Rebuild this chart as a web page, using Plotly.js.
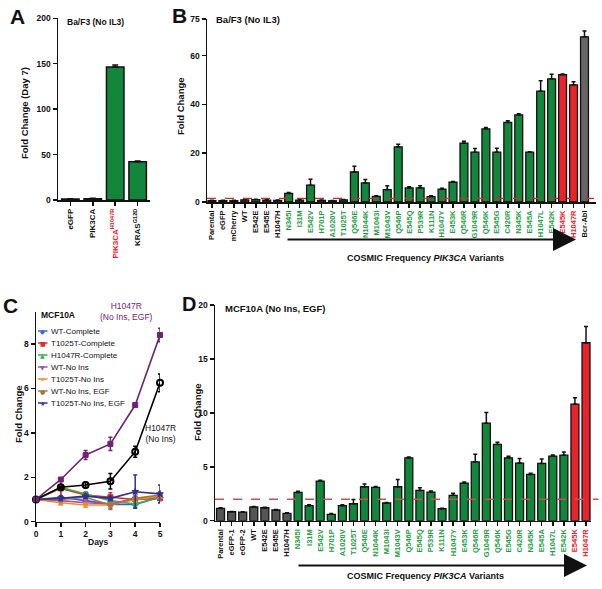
<!DOCTYPE html>
<html><head><meta charset="utf-8">
<script src="https://cdn.plot.ly/plotly-3.0.1.min.js"></script>
<style>html,body{margin:0;padding:0;background:#fff}#chart{width:602px;height:589px}</style>
</head><body><div id="chart"></div>
<script>
// ---------- DATA ----------
const catsA = ['eGFP','PIK3CA','PIK3CA_H1047R','KRAS_G12D'];
const tickA = ['eGFP','PIK3CA','<span style="color:#e8202a">PIK3CA<sup>H1047R</sup></span>','KRAS<sup>G12D</sup>'];
const valsA = [1.0, 1.5, 146.5, 42];
const errA  = [0.3, 0.4, 2.0, 1.0];

const catsB = ['Parental','eGFP','mCherry','WT','E542E','E545E','H1047H',
  'N345I','I31M','E542V','H701P','A1020V','T1025T','Q546E','N1044K','M1043I','M1043V',
  'Q546P','E545Q','P539R','K111N','H1047Y','E453K','Q546R','G1049R','Q546K','E545G',
  'C420R','N345K','E545A','H1047L','E542K','E545K','H1047R','Bcr-Abl'];
const groupB = ['c','c','c','c','c','c','c',
  'v','v','v','v','v','v','v','v','v','v','v','v','v','v','v','v','v','v','v','v','v','v','v','v','v',
  'h','h','p'];
const valsB = [0.6,0.6,0.6,0.9,1.0,0.8,0.7,
  3.5,0.8,6.9,0.7,0.5,0.9,12.3,7.8,2.3,5.1,22.6,5.8,5.8,2.2,5.3,8.1,24.1,20.4,30.0,20.4,32.6,35.7,20.4,45.4,50.5,
  52.2,48.0,67.7];
const errB = [0.1,0.1,0.1,0.1,0.1,0.1,0.1,
  0.4,0.2,2.4,0.1,0.1,0.1,2.4,1.4,0.3,1.6,1.1,0.4,0.9,0.4,0.3,0.3,0.8,1.5,0.5,1.6,0.7,0.5,0.2,4.3,1.9,
  0.3,1.3,2.4];
const thresholdB = 1.5;

const catsD = ['Parental','eGFP-1','eGFP-2','WT','E542E','E545E','H1047H',
  'N345I','I31M','E542V','H701P','A1020V','T1025T','Q546E','N1044K','M1043I','M1043V',
  'Q546P','E545Q','P539R','K111N','H1047Y','E453K','Q546R','G1049R','Q546K','E545G',
  'C420R','N345K','E545A','H1047L','E542K','E545K','H1047R'];
const groupD = ['c','c','c','c','c','c','c',
  'v','v','v','v','v','v','v','v','v','v','v','v','v','v','v','v','v','v','v','v','v','v','v','v','v',
  'h','h'];
const valsD = [1.14,0.83,0.80,1.27,1.20,0.99,0.68,
  2.62,1.39,3.67,0.59,1.39,1.57,3.15,3.09,1.64,3.15,5.83,2.81,2.65,1.11,2.35,3.49,5.46,9.04,7.07,5.83,5.34,4.29,5.31,5.99,6.08,
  10.8,16.5];
const errD = [0.05,0.03,0.03,0.05,0.05,0.05,0.05,
  0.1,0.08,0.08,0.08,0.1,0.4,0.25,0.08,0.05,0.68,0.08,0.25,0.1,0.05,0.2,0.1,0.7,1.0,0.2,0.15,0.43,0.1,0.4,0.1,0.28,
  0.6,1.5];
const thresholdD = 2;

const daysC = [0,1,2,3,4,5];
const namesC = ['WT-Complete','T1025T-Complete','H1047R-Complete','WT-No Ins','T1025T-No Ins','WT-No Ins, EGF','T1025T-No Ins, EGF','H1047R (No Ins, EGF)','H1047R (No Ins)'];
const valsC = [
  [1.0,1.1,0.95,0.78,0.78,1.1],
  [1.0,1.5,1.2,1.1,1.0,1.05],
  [1.0,1.55,1.25,0.95,0.8,1.1],
  [1.0,0.95,0.85,0.8,1.05,1.1],
  [1.0,0.85,0.75,0.75,1.0,1.15],
  [1.0,1.0,1.1,0.75,1.05,1.2],
  [1.0,1.05,1.15,1.05,1.35,1.25],
  [1.0,1.9,3.0,3.5,5.25,8.4],
  [1.0,1.55,1.65,1.82,3.15,6.25]
];
const errC = [
  [0.05,0.3,0.15,0.2,0.15,0.1],
  [0.05,0.35,0.1,0.2,0.15,0.2],
  [0.05,0.1,0.1,0.1,0.1,0.25],
  [0.05,0.1,0.1,0.1,0.1,0.1],
  [0.05,0.1,0.1,0.1,0.1,0.1],
  [0.05,0.1,0.1,0.2,0.1,0.15],
  [0.05,0.1,0.1,0.1,0.75,0.4],
  [0.05,0.08,0.2,0.3,0.08,0.3],
  [0.05,0.05,0.12,0.35,0.25,0.4]
];

// ---------- STYLE ----------
const FONT = 'Liberation Sans, Arial, Helvetica, sans-serif';
const W = 602, H = 589;
const px = v => v / W, py = v => 1 - v / H;
const barColor = {c:'#555555', v:'#12873b', h:'#e8232a', p:'#666666'};
const labColor = {c:'#111111', v:'#1d9e45', h:'#e8202a', p:'#111111'};
const colorsC = ['#3b5fcf','#e8262a','#2db34a','#9b4fc0','#f28c28','#a4763a','#2e3192','#6e2474','#000000'];
const symC = ['diamond','square','triangle-up','triangle-down','x-thin-open','octagon','star','square','circle-open'];
const glyphC = ['◆','■','▲','▼','✕','●','★'];

const tickText = (cats, groups) => cats.map((c,i)=>`<span style="color:${labColor[groups[i]]}">${c}</span>`);

const axBase = {showline:true, linecolor:'#111', linewidth:1.5, ticks:'outside', ticklen:4, tickwidth:1.5,
  tickcolor:'#111', showgrid:false, zeroline:false, fixedrange:true};

const traces = [];
traces.push({type:'bar', x:catsA, y:valsA, xaxis:'x', yaxis:'y', width:0.78,
  marker:{color:'#12873b', line:{color:'#111', width:1.5}},
  error_y:{type:'data', array:errA, arrayminus:errA.map(()=>0), color:'#111', thickness:1.5, width:3}, showlegend:false});
traces.push({type:'bar', x:catsB, y:valsB, xaxis:'x2', yaxis:'y2', width:0.72,
  marker:{color:groupB.map(g=>barColor[g]), line:{color:'#111', width:1.3}},
  error_y:{type:'data', array:errB, arrayminus:errB.map(()=>0), color:'#111', thickness:1.5, width:2}, showlegend:false});
traces.push({type:'bar', x:catsD, y:valsD, xaxis:'x4', yaxis:'y4', width:0.72,
  marker:{color:groupD.map(g=>barColor[g]), line:{color:'#111', width:1.3}},
  error_y:{type:'data', array:errD, arrayminus:errD.map(()=>0), color:'#111', thickness:1.5, width:2}, showlegend:false});
// panel C lines (draw low ones first, then black, purple)
const orderC = [0,1,2,3,4,5,6,8,7];
orderC.forEach(k=>{
  traces.push({type:'scatter', mode:'lines+markers', x:daysC, y:valsC[k], xaxis:'x3', yaxis:'y3', name:namesC[k],
    line:{color:colorsC[k], width:1.6},
    marker:{color:colorsC[k], symbol:symC[k], size:k===8?6:5, line:{color:colorsC[k], width:k===8?2:1}},
    error_y:{type:'data', array:errC[k], color:colorsC[k], thickness:1.5, width:2}, showlegend:false, cliponaxis:false});
});

const shapes = [
  {type:'line', xref:'x2 domain', yref:'y2', x0:0, x1:1, y0:thresholdB, y1:thresholdB, line:{color:'#e8202a', width:1.1, dash:'dash'}},
  {type:'line', xref:'x4 domain', yref:'y4', x0:0, x1:1.02, y0:thresholdD, y1:thresholdD, line:{color:'#c8504d', width:1.5, dash:'dash'}},
];

const ann = [];
const txt = (text, x, y, o={}) => ann.push(Object.assign({text, xref:'paper', yref:'paper', x:px(x), y:py(y), showarrow:false,
  font:{family:FONT, size:9, color:'#111'}, xanchor:'center', yanchor:'middle'}, o));
// panel letters
txt('<b>A</b>', 17, 16, {font:{family:FONT, size:21, color:'#111'}});
txt('<b>B</b>', 179, 15, {font:{family:FONT, size:21, color:'#111'}});
txt('<b>C</b>', 10, 305, {font:{family:FONT, size:21, color:'#111'}});
txt('<b>D</b>', 189, 304, {font:{family:FONT, size:20, color:'#111'}});
// plot titles
txt('<b>Ba/F3 (No IL3)</b>', 65, 22, {xanchor:'left', font:{family:FONT, size:8.5, color:'#111'}});
txt('<b>Ba/F3 (No IL3)</b>', 214, 20, {xanchor:'left', font:{family:FONT, size:9.5, color:'#111'}});
txt('<b>MCF10A</b>', 39, 315, {xanchor:'left', font:{family:FONT, size:8.5, color:'#111'}});
txt('<b>MCF10A (No Ins, EGF)</b>', 223, 308, {xanchor:'left', font:{family:FONT, size:9.5, color:'#111'}});
// y-axis titles
txt('<b>Fold Change (Day 7)</b>', 24, 113, {textangle:-90, font:{family:FONT, size:9.5, color:'#111'}});
txt('<b>Fold Change</b>', 180, 106, {textangle:-90, font:{family:FONT, size:9.5, color:'#111'}});
txt('<b>Fold Change</b>', 18, 414, {textangle:-90, font:{family:FONT, size:9.5, color:'#111'}});
txt('<b>Fold Change</b>', 197, 412, {textangle:-90, font:{family:FONT, size:9.5, color:'#111'}});
txt('<b>Days</b>', 98, 542, {font:{family:FONT, size:8.5, color:'#111'}});
// COSMIC captions
txt('<b>COSMIC Frequency <i>PIK3CA</i> Variants</b>', 425, 258, {font:{family:FONT, size:9, color:'#111'}});
txt('<b>COSMIC Frequency <i>PIK3CA</i> Variants</b>', 425, 576, {font:{family:FONT, size:9, color:'#111'}});
// arrows
ann.push({text:'', xref:'paper', yref:'paper', x:px(576), y:py(239.5), ax:-(576-286), ay:0, showarrow:true,
  arrowhead:2, arrowsize:2.3, arrowwidth:2, arrowcolor:'#111', standoff:0});
ann.push({text:'', xref:'paper', yref:'paper', x:px(587), y:py(565.5), ax:-(587-297), ay:0, showarrow:true,
  arrowhead:2, arrowsize:2.3, arrowwidth:2, arrowcolor:'#111', standoff:0});
// C line labels
txt('H1047R<br>(No Ins, EGF)', 126, 311, {font:{family:FONT, size:8.5, color:'#6e2474'}});
txt('H1047R<br>(No Ins)', 161, 433, {font:{family:FONT, size:8.5, color:'#111'}});
// C legend
for (let k=0;k<7;k++){
  const yy = 331 + 12*k;
  shapes.push({type:'line', xref:'paper', yref:'paper', x0:px(38), x1:px(47.5), y0:py(yy), y1:py(yy), line:{color:colorsC[k], width:1.5}});
  txt(glyphC[k], 42.7, yy, {font:{family:'DejaVu Sans', size:6, color:colorsC[k]}});
  txt(namesC[k], 48.5, yy, {xanchor:'left', font:{family:FONT, size:8, color:'#111'}});
}

const tf = (s)=>({family:FONT, size:s, color:'#111', weight:'bold'});
const layout = {
  width:W, height:H, margin:{l:0,r:0,t:0,b:0}, paper_bgcolor:'#fff', plot_bgcolor:'rgba(0,0,0,0)',
  showlegend:false, font:{family:FONT, color:'#111'},
  xaxis: Object.assign({}, axBase, {domain:[px(58),px(150)], anchor:'y', type:'category', range:[-0.55,3.55],
    tickvals:catsA, ticktext:tickA, tickangle:-90, tickfont:tf(8)}),
  yaxis: Object.assign({}, axBase, {domain:[py(200),py(18.3)], anchor:'x', range:[0,200], tickvals:[0,50,100,150,200], tickfont:tf(8.5)}),
  xaxis2: Object.assign({}, axBase, {domain:[px(207),px(596)], anchor:'y2', type:'category', range:[-0.45,35.05],
    tickvals:catsB, ticktext:tickText(catsB,groupB), tickangle:-90, tickfont:tf(7.5)}),
  yaxis2: Object.assign({}, axBase, {domain:[py(202),py(19)], anchor:'x2', range:[0,75], tickvals:[0,20,40,60,75], tickfont:tf(8.5)}),
  xaxis3: Object.assign({}, axBase, {domain:[px(36),px(160)], anchor:'y3', range:[0,5], tickvals:[0,1,2,3,4,5], tickfont:tf(8.5)}),
  yaxis3: Object.assign({}, axBase, {domain:[py(521.7),py(311.7)], anchor:'x3', range:[0,9.45], tickvals:[0,2,4,6,8], tickfont:tf(8.5)}),
  xaxis4: Object.assign({}, axBase, {domain:[px(215),px(591)], anchor:'y4', type:'category', range:[-0.5,33.45],
    tickvals:catsD, ticktext:tickText(catsD,groupD), tickangle:-90, tickfont:tf(7.5)}),
  yaxis4: Object.assign({}, axBase, {domain:[py(520.7),py(305)], anchor:'x4', range:[0,20], tickvals:[0,5,10,15,20], tickfont:tf(8.5)}),
  shapes, annotations: ann
};
Plotly.newPlot('chart', traces, layout, {staticPlot:true, displayModeBar:false});
</script></body></html>
